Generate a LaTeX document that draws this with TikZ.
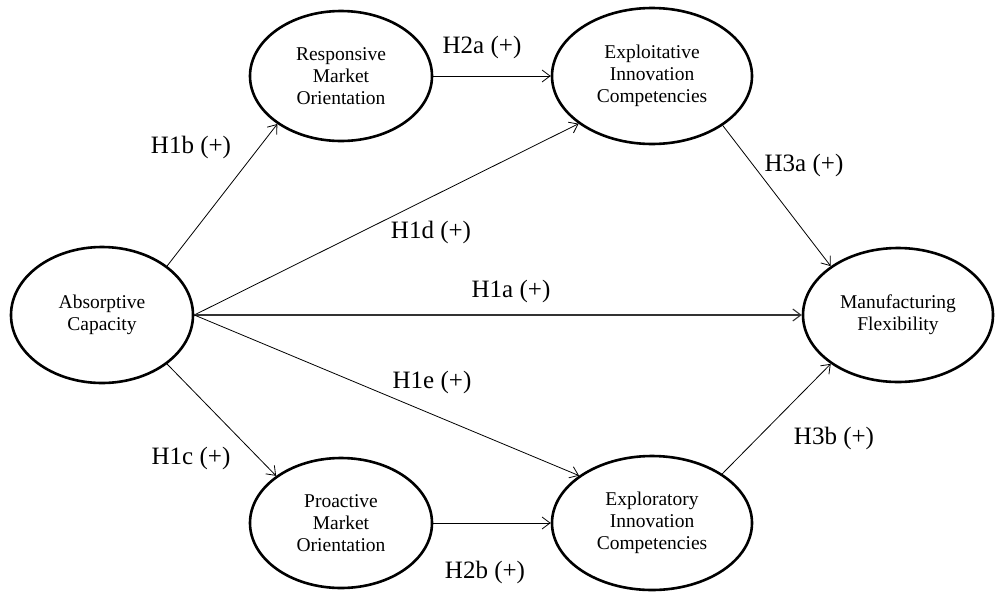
\documentclass[tikz,border=0pt]{standalone}
\usepackage{fontspec}
\setmainfont{Liberation Serif}
\usepackage{tikz}
\usetikzlibrary{shapes,arrows.meta,positioning}

\begin{document}
\begin{tikzpicture}[x=1pt, y=-1pt,
    construct/.style={ellipse, draw, line width=2.6pt, inner sep=0pt, align=center,
        font=\fontsize{19.5}{22}\selectfont},
    hyp/.style={-{Straight Barb[length=8pt,width=12pt]}, line width=0.8pt},
    lbl/.style={font=\fontsize{25}{28}\selectfont}]
    \useasboundingbox (0,0) rectangle (995,592);

    % Constructs
    \node[construct, minimum width=182pt, minimum height=136pt] (absorb) at (102,315) {Absorptive\\Capacity};
    \node[construct, minimum width=182pt, minimum height=130pt] (respmo) at (341,76) {Responsive\\Market\\Orientation};
    \node[construct, minimum width=182pt, minimum height=130pt] (proamo) at (341,523) {Proactive\\Market\\Orientation};
    \node[construct, minimum width=200pt, minimum height=136pt] (exploit) at (652,76) {Exploitative\\Innovation\\Competencies};
    \node[construct, minimum width=200pt, minimum height=134pt] (explore) at (652,523) {Exploratory\\Innovation\\Competencies};
    \node[construct, minimum width=190pt, minimum height=134pt] (mflex) at (898,315) {Manufacturing\\Flexibility};

    % Hypothesised paths
    \draw[hyp] (absorb.37) -- (respmo.217);
    \draw[hyp] (absorb.-37) -- (proamo.144);
    \draw[hyp] (absorb.east) -- (exploit.213);
    \draw[hyp, line width=1.1pt, black!80] (absorb.east) -- (mflex.west);
    \draw[hyp] (absorb.east) -- (explore.147);
    \draw[hyp] (respmo.east) -- (exploit.west);
    \draw[hyp] (proamo.east) -- (explore.west);
    \draw[hyp] (exploit.-35) -- (mflex.144);
    \draw[hyp] (explore.35) -- (mflex.216);

    % Hypothesis labels
    \node[lbl] (h1b) at (191,147) {H1b (+)};
    \node[lbl] (h1c) at (191,458) {H1c (+)};
    \node[lbl] (h1d) at (431,232) {H1d (+)};
    \node[lbl] (h1a) at (511,291) {H1a (+)};
    \node[lbl] (h1e) at (432,382) {H1e (+)};
    \node[lbl] (h2a) at (482,47) {H2a (+)};
    \node[lbl] (h2b) at (485,572) {H2b (+)};
    \node[lbl] (h3a) at (804,165) {H3a (+)};
    \node[lbl] (h3b) at (834,438) {H3b (+)};

\end{tikzpicture}
\end{document}
